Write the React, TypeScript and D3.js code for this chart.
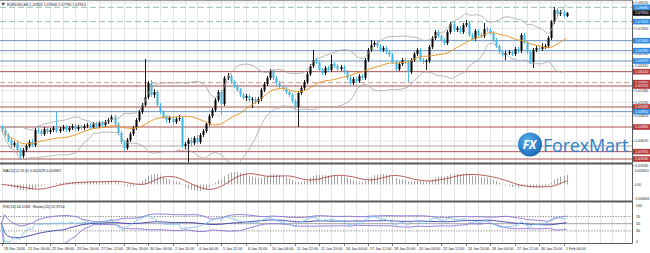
import React from "react";
import * as d3 from "d3";

// ---- EURUSD H4 candles (19 Dec 2016 – 1 Feb 2017) ----
const opens = [1.0449,1.0440,1.0425,1.0410,1.0395,1.0401,1.0380,1.0362,1.0380,1.0392,
1.0404,1.0395,1.0440,1.0437,1.0428,1.0443,1.0434,1.0440,1.0446,1.0437,
1.0443,1.0449,1.0440,1.0446,1.0452,1.0443,1.0449,1.0446,1.0452,1.0455,
1.0449,1.0458,1.0452,1.0461,1.0455,1.0464,1.0470,1.0479,1.0458,1.0431,
1.0404,1.0386,1.0410,1.0428,1.0446,1.0470,1.0494,1.0515,1.0539,1.0581,
1.0545,1.0554,1.0515,1.0494,1.0479,1.0470,1.0476,1.0464,1.0473,1.0476,
1.0392,1.0398,1.0410,1.0401,1.0416,1.0404,1.0425,1.0437,1.0458,1.0482,
1.0500,1.0530,1.0554,1.0518,1.0596,1.0602,1.0584,1.0572,1.0560,1.0545,
1.0536,1.0542,1.0530,1.0533,1.0524,1.0533,1.0560,1.0578,1.0596,1.0617,
1.0596,1.0581,1.0569,1.0563,1.0554,1.0545,1.0527,1.0509,1.0551,1.0566,
1.0584,1.0608,1.0632,1.0650,1.0644,1.0620,1.0611,1.0626,1.0620,1.0638,
1.0632,1.0623,1.0629,1.0614,1.0596,1.0581,1.0593,1.0587,1.0602,1.0596,
1.0650,1.0680,1.0695,1.0701,1.0692,1.0680,1.0686,1.0674,1.0665,1.0644,
1.0623,1.0638,1.0650,1.0644,1.0614,1.0650,1.0668,1.0680,1.0650,1.0644,
1.0647,1.0689,1.0716,1.0734,1.0722,1.0710,1.0701,1.0734,1.0758,1.0740,
1.0746,1.0734,1.0755,1.0761,1.0725,1.0713,1.0737,1.0725,1.0722,1.0743,
1.0740,1.0731,1.0710,1.0692,1.0674,1.0665,1.0671,1.0674,1.0668,1.0683,
1.0677,1.0725,1.0704,1.0674,1.0644,1.0680,1.0686,1.0683,1.0689,1.0692,
1.0716,1.0764,1.0800,1.0788,1.0794,1.0782];

const highs = [1.0455,1.0446,1.0431,1.0416,1.0407,1.0407,1.0386,1.0386,1.0398,1.0410,
1.0413,1.0446,1.0449,1.0443,1.0449,1.0449,1.0446,1.0452,1.0494,1.0449,
1.0455,1.0455,1.0452,1.0458,1.0458,1.0455,1.0455,1.0458,1.0461,1.0461,
1.0464,1.0464,1.0467,1.0467,1.0470,1.0476,1.0485,1.0485,1.0464,1.0437,
1.0410,1.0416,1.0434,1.0452,1.0476,1.0500,1.0521,1.0653,1.0587,1.0590,
1.0563,1.0560,1.0521,1.0500,1.0485,1.0482,1.0482,1.0479,1.0485,1.0482,
1.0404,1.0416,1.0419,1.0422,1.0425,1.0431,1.0443,1.0464,1.0488,1.0506,
1.0536,1.0560,1.0560,1.0602,1.0611,1.0608,1.0590,1.0578,1.0566,1.0551,
1.0548,1.0548,1.0539,1.0539,1.0539,1.0566,1.0584,1.0602,1.0623,1.0623,
1.0602,1.0587,1.0575,1.0569,1.0560,1.0551,1.0533,1.0557,1.0572,1.0590,
1.0614,1.0638,1.0680,1.0656,1.0650,1.0626,1.0632,1.0632,1.0665,1.0644,
1.0638,1.0635,1.0635,1.0620,1.0602,1.0599,1.0599,1.0608,1.0608,1.0656,
1.0686,1.0710,1.0707,1.0707,1.0698,1.0692,1.0692,1.0680,1.0671,1.0650,
1.0644,1.0656,1.0656,1.0650,1.0656,1.0674,1.0686,1.0686,1.0656,1.0653,
1.0695,1.0722,1.0740,1.0740,1.0728,1.0716,1.0740,1.0764,1.0764,1.0752,
1.0752,1.0761,1.0770,1.0767,1.0731,1.0743,1.0743,1.0731,1.0761,1.0749,
1.0746,1.0737,1.0716,1.0698,1.0680,1.0677,1.0680,1.0680,1.0689,1.0689,
1.0731,1.0731,1.0710,1.0680,1.0686,1.0692,1.0692,1.0701,1.0698,1.0722,
1.0770,1.0809,1.0806,1.0800,1.0800,1.0794];

const lows = [1.0434,1.0419,1.0404,1.0386,1.0389,1.0371,1.0353,1.0356,1.0374,1.0386,
1.0389,1.0389,1.0428,1.0422,1.0422,1.0428,1.0428,1.0434,1.0431,1.0431,
1.0437,1.0434,1.0434,1.0440,1.0437,1.0437,1.0440,1.0440,1.0446,1.0443,
1.0443,1.0446,1.0446,1.0449,1.0449,1.0458,1.0464,1.0452,1.0425,1.0398,
1.0377,1.0380,1.0404,1.0422,1.0440,1.0464,1.0488,1.0509,1.0533,1.0539,
1.0536,1.0509,1.0488,1.0473,1.0461,1.0461,1.0455,1.0458,1.0467,1.0386,
1.0383,1.0341,1.0392,1.0395,1.0398,1.0398,1.0419,1.0431,1.0452,1.0476,
1.0494,1.0524,1.0485,1.0512,1.0590,1.0578,1.0566,1.0554,1.0539,1.0530,
1.0527,1.0524,1.0506,1.0518,1.0518,1.0527,1.0554,1.0572,1.0590,1.0590,
1.0575,1.0563,1.0557,1.0548,1.0539,1.0521,1.0503,1.0449,1.0545,1.0560,
1.0578,1.0602,1.0626,1.0638,1.0614,1.0605,1.0605,1.0614,1.0614,1.0626,
1.0617,1.0617,1.0608,1.0590,1.0575,1.0575,1.0581,1.0581,1.0590,1.0590,
1.0644,1.0674,1.0689,1.0686,1.0674,1.0674,1.0668,1.0659,1.0638,1.0617,
1.0617,1.0632,1.0638,1.0584,1.0608,1.0644,1.0662,1.0644,1.0638,1.0620,
1.0641,1.0683,1.0710,1.0716,1.0704,1.0695,1.0695,1.0728,1.0734,1.0734,
1.0728,1.0728,1.0749,1.0719,1.0707,1.0707,1.0719,1.0716,1.0716,1.0734,
1.0725,1.0704,1.0686,1.0668,1.0659,1.0650,1.0665,1.0662,1.0662,1.0671,
1.0671,1.0698,1.0668,1.0638,1.0626,1.0674,1.0677,1.0677,1.0683,1.0686,
1.0710,1.0758,1.0782,1.0782,1.0776,1.0779];

const closes = [1.0440,1.0425,1.0410,1.0395,1.0401,1.0380,1.0362,1.0380,1.0392,1.0404,
1.0395,1.0440,1.0437,1.0428,1.0443,1.0434,1.0440,1.0446,1.0437,1.0443,
1.0449,1.0440,1.0446,1.0452,1.0443,1.0449,1.0446,1.0452,1.0455,1.0449,
1.0458,1.0452,1.0461,1.0455,1.0464,1.0470,1.0479,1.0458,1.0431,1.0404,
1.0386,1.0410,1.0428,1.0446,1.0470,1.0494,1.0515,1.0539,1.0581,1.0545,
1.0554,1.0515,1.0494,1.0479,1.0470,1.0476,1.0464,1.0473,1.0476,1.0392,
1.0398,1.0410,1.0401,1.0416,1.0404,1.0425,1.0437,1.0458,1.0482,1.0500,
1.0530,1.0554,1.0518,1.0596,1.0602,1.0584,1.0572,1.0560,1.0545,1.0536,
1.0542,1.0530,1.0533,1.0524,1.0533,1.0560,1.0578,1.0596,1.0617,1.0596,
1.0581,1.0569,1.0563,1.0554,1.0545,1.0527,1.0509,1.0551,1.0566,1.0584,
1.0608,1.0632,1.0650,1.0644,1.0620,1.0611,1.0626,1.0620,1.0638,1.0632,
1.0623,1.0629,1.0614,1.0596,1.0581,1.0593,1.0587,1.0602,1.0596,1.0650,
1.0680,1.0695,1.0701,1.0692,1.0680,1.0686,1.0674,1.0665,1.0644,1.0623,
1.0638,1.0650,1.0644,1.0614,1.0650,1.0668,1.0680,1.0650,1.0644,1.0647,
1.0689,1.0716,1.0734,1.0722,1.0710,1.0701,1.0734,1.0758,1.0740,1.0746,
1.0734,1.0755,1.0761,1.0725,1.0713,1.0737,1.0725,1.0722,1.0743,1.0740,
1.0731,1.0710,1.0692,1.0674,1.0665,1.0671,1.0674,1.0668,1.0683,1.0677,
1.0725,1.0704,1.0674,1.0644,1.0680,1.0686,1.0683,1.0689,1.0692,1.0716,
1.0764,1.0800,1.0788,1.0794,1.0782,1.0791];

// time axis labels, one every 8 bars
const timeLabels = ["19 Dec 2016","21 Dec 00:00","22 Dec 08:00","23 Dec 16:00","27 Dec 12:00","28 Dec 20:00","30 Dec 04:00","2 Jan 20:00","4 Jan 04:00","5 Jan 12:00","6 Jan 20:00","10 Jan 04:00","11 Jan 12:00","12 Jan 20:00","16 Jan 04:00","17 Jan 12:00","18 Jan 20:00","20 Jan 04:00","23 Jan 12:00","24 Jan 20:00","26 Jan 04:00","27 Jan 12:00","30 Jan 20:00","1 Feb 04:00"];

// price scale labels
const priceTicks = [1.0822, 1.0745, 1.0670, 1.0632, 1.0558, 1.0523, 1.0482, 1.0407, 1.0333];

// horizontal support / resistance levels
const levelPrices = [1.0808, 1.0765, 1.0708, 1.0678, 1.0647, 1.0615, 1.0582, 1.0572, 1.0509, 1.0495, 1.0449, 1.0392, 1.0375, 1.0353];
const levelTypes = ["pivot", "pivot", "resistance", "resistance", "resistance", "support", "pivotLow", "support", "support", "resistance", "support", "minor", "support", "support"];

const rsiLevels = [70, 50, 30];
const rsiAxis = [100, 70, 50, 30, 0];

// ---- indicator helpers ----
function smaS(a: number[], n: number) {
  return a.map((_, i) => d3.mean(a.slice(Math.max(0, i - n + 1), i + 1)) as number);
}
function sdS(a: number[], n: number) {
  return a.map((_, i) => {
    const w = a.slice(Math.max(0, i - n + 1), i + 1);
    const m = d3.mean(w) as number;
    return Math.sqrt(d3.mean(w, (v) => (v - m) * (v - m)) as number);
  });
}
function emaS(a: number[], n: number) {
  const k = 2 / (n + 1);
  const out: number[] = [];
  a.forEach((v, i) => out.push(i === 0 ? v : v * k + out[i - 1] * (1 - k)));
  return out;
}
function rsiS(a: number[], n: number) {
  const out = [50];
  let g = 0, l = 0;
  for (let i = 1; i < a.length; i++) {
    const ch = a[i] - a[i - 1];
    const gain = Math.max(ch, 0), loss = Math.max(-ch, 0);
    const p = Math.min(i, n);
    g = (g * (p - 1) + gain) / p;
    l = (l * (p - 1) + loss) / p;
    out.push(l === 0 ? 100 : 100 - 100 / (1 + g / l));
  }
  return out;
}

const FONT = "'Liberation Sans', Arial, sans-serif";
const AX = 632.5;

const levelStyle: Record<string, { stroke: string; dash?: string; label?: string }> = {
  pivot: { stroke: "#93bfae", dash: "6,3", label: "#2f8be0" },
  pivotLow: { stroke: "#c99a9a", dash: "5,3", label: "#b33a3a" },
  resistance: { stroke: "#6d93bf", label: "#2f8be0" },
  support: { stroke: "#a95454", label: "#b33a3a" },
  minor: { stroke: "#a8a8a8" },
};

export default function App() {
  const N = closes.length;
  const xB = d3.scaleLinear().domain([0, 184]).range([1.5, 563.5]);
  const yP = d3.scaleLinear().domain([1.0341, 1.0824]).range([163, 2]);

  const mid = smaS(closes, 20);
  const dev = sdS(closes, 20);
  const upper = mid.map((m, i) => m + 2 * dev[i]);
  const lower = mid.map((m, i) => m - 2 * dev[i]);

  const e12 = emaS(closes, 12), e26 = emaS(closes, 26);
  const macd = closes.map((_, i) => e12[i] - e26[i]);
  const signal = smaS(macd, 9);
  const mExt = d3.extent([...macd, ...signal, 0]) as [number, number];
  const yM = d3.scaleLinear().domain(mExt).range([191, 172]);
  const yMTop = yM.invert(170.5), yMBot = yM.invert(198.5);

  const rsi = rsiS(closes, 14);
  const rMid = smaS(rsi, 20), rDev = sdS(rsi, 20);
  const rUp = rMid.map((m, i) => m + 2 * rDev[i]);
  const rLo = rMid.map((m, i) => m - 2 * rDev[i]);
  const yR = d3.scaleLinear().domain([0, 100]).range([241.7, 205.7]);

  const lineP = d3.line<number>().x((_, i) => xB(i)).y((v) => yP(v));
  const lineM = d3.line<number>().x((_, i) => xB(i)).y((v) => yM(v));
  const lineR = d3.line<number>().x((_, i) => xB(i)).y((v) => yR(v));

  const gridIdx = d3.range(0, 210, 4).filter((i) => xB(i) < AX);
  const f5 = d3.format(".5f");
  const f6 = d3.format(".6f");
  const f4 = d3.format(".4f");
  const last = N - 1;

  return (
    <svg width={650} height={253} style={{ position: "absolute", left: 0, top: 0, background: "#fff" }} fontFamily={FONT}>
      <defs>
        <clipPath id="cMain"><rect x={0} y={0} width={AX} height={162.5} /></clipPath>
        <clipPath id="cMacd"><rect x={0} y={164.5} width={AX} height={36} /></clipPath>
        <clipPath id="cRsi"><rect x={0} y={202.5} width={AX} height={40.5} /></clipPath>
        <radialGradient id="logoG" cx="40%" cy="35%" r="70%">
          <stop offset="0%" stopColor="#5cb3f0" />
          <stop offset="100%" stopColor="#1565b0" />
        </radialGradient>
      </defs>
      <rect x={0} y={0} width={650} height={253} fill="#fff" />

      {/* vertical grid */}
      {gridIdx.map((i) => (
        <line key={"vg" + i} x1={Math.round(xB(i)) + 0.5} x2={Math.round(xB(i)) + 0.5} y1={0} y2={243} stroke="#dedede" strokeWidth={0.8} />
      ))}
      {/* horizontal grid */}
      {priceTicks.filter((p) => yP(p) < 162).map((p) => (
        <line key={"hg" + p} x1={0} x2={AX} y1={yP(p)} y2={yP(p)} stroke="#dedede" strokeWidth={0.8} />
      ))}

      {/* main panel */}
      <g clipPath="url(#cMain)">
        {levelPrices.map((p, k) => {
          const s = levelStyle[levelTypes[k]];
          return <line key={"lv" + k} x1={0} x2={AX} y1={yP(p)} y2={yP(p)} stroke={s.stroke} strokeWidth={1} strokeDasharray={s.dash} />;
        })}
        {closes.map((c, i) => {
          const o = opens[i];
          const bull = c >= o;
          const col = bull ? "#000" : "#3db6e6";
          const cx = Math.round(xB(i)) + 0.5;
          const top = yP(Math.max(o, c));
          const bot = yP(Math.min(o, c));
          return (
            <g key={"c" + i}>
              <line x1={cx} x2={cx} y1={yP(Math.max(highs[i], o, c))} y2={yP(Math.min(lows[i], o, c))} stroke={col} strokeWidth={0.9} />
              <rect x={cx - 1} y={top} width={2} height={Math.max(bot - top, 0.8)} fill={col} />
            </g>
          );
        })}
        <path d={lineP(upper) || ""} fill="none" stroke="#a6a6a6" strokeWidth={0.8} />
        <path d={lineP(lower) || ""} fill="none" stroke="#a6a6a6" strokeWidth={0.8} />
        <path d={lineP(mid) || ""} fill="none" stroke="#e8992c" strokeWidth={1} />
      </g>

      {/* MACD panel */}
      <g clipPath="url(#cMacd)">
        {macd.map((v, i) => (
          <line key={"h" + i} x1={Math.round(xB(i)) + 0.5} x2={Math.round(xB(i)) + 0.5} y1={yM(0)} y2={yM(v)} stroke="#a2a2a2" strokeWidth={1} />
        ))}
        <path d={lineM(signal) || ""} fill="none" stroke="#b04848" strokeWidth={0.9} />
      </g>

      {/* RSI panel */}
      <g clipPath="url(#cRsi)">
        {rsiLevels.map((lv) => (
          <line key={"rl" + lv} x1={0} x2={AX} y1={yR(lv)} y2={yR(lv)} stroke={lv === 50 ? "#8c8c8c" : "#6a6a6a"} strokeWidth={0.8} strokeDasharray={lv === 50 ? undefined : "1.2,1.5"} />
        ))}
        <path d={lineR(rUp) || ""} fill="none" stroke="#8d6fd6" strokeWidth={0.9} />
        <path d={lineR(rLo) || ""} fill="none" stroke="#8d6fd6" strokeWidth={0.9} />
        <path d={lineR(rMid) || ""} fill="none" stroke="#3a3aa8" strokeWidth={0.9} />
        <path d={lineR(rsi) || ""} fill="none" stroke="#7cc4ee" strokeWidth={0.9} />
      </g>

      {/* panel separators and axes */}
      <rect x={0} y={162.5} width={AX} height={2} fill="#5a5a5a" />
      <rect x={0} y={200.5} width={AX} height={2} fill="#5a5a5a" />
      <line x1={0} x2={AX} y1={243.5} y2={243.5} stroke="#5a5a5a" strokeWidth={1} />
      <line x1={AX} x2={AX} y1={0} y2={243.5} stroke="#5a5a5a" strokeWidth={1} />
      <line x1={0} x2={AX} y1={0.5} y2={0.5} stroke="#9a9a9a" strokeWidth={1} />

      {/* headers */}
      <polygon points="1.5,3 5,3 3.25,5.5" fill="#333" />
      <text x={7} y={6} fontSize={3.7} fill="#222">
        {`EURUSD,H4  ${f5(opens[last])} ${f5(highs[last])} ${f5(lows[last])} ${f5(closes[last])}`}
      </text>
      <text x={3} y={171.5} fontSize={3.7} fill="#222">
        {`MACD(12,26,9) ${f6(macd[last])} ${f6(signal[last])}`}
      </text>
      <text x={3} y={207.5} fontSize={3.7} fill="#222">
        {`RSI(14) ${f4(rsi[last])}   ~Bands(20) ${f4(rMid[last])}`}
      </text>

      {/* price axis plain labels */}
      {priceTicks.map((p) => (
        <g key={"pt" + p}>
          <line x1={AX} x2={AX + 2} y1={yP(p)} y2={yP(p)} stroke="#5a5a5a" strokeWidth={0.8} />
          <text x={635} y={yP(p) + 1.3} fontSize={3.7} fill="#222">{f5(p)}</text>
        </g>
      ))}
      {/* coloured level labels */}
      {levelPrices.map((p, k) => {
        const s = levelStyle[levelTypes[k]];
        if (!s.label) return null;
        return (
          <g key={"ll" + k}>
            <rect x={AX + 0.5} y={yP(p) - 2.8} width={17} height={5.6} fill={s.label} />
            <text x={635} y={yP(p) + 1.3} fontSize={3.7} fill="#fff">{f5(p)}</text>
          </g>
        );
      })}
      {/* current price */}
      <rect x={AX + 0.5} y={yP(closes[last]) - 2.8} width={17} height={5.6} fill="#111" />
      <text x={635} y={yP(closes[last]) + 1.3} fontSize={3.7} fill="#fff">{f5(closes[last])}</text>

      {/* MACD axis */}
      <text x={634.5} y={171.8} fontSize={3.4} fill="#222">{f6(yMTop)}</text>
      <text x={634.5} y={yM(0) + 1.3} fontSize={3.4} fill="#222">0.00</text>
      <text x={634} y={199.8} fontSize={3.2} fill="#222">{f6(yMBot)}</text>

      {/* RSI axis */}
      {rsiAxis.map((v) => (
        <text key={"ra" + v} x={636} y={yR(v) + 1.3} fontSize={3.7} fill="#222">{v}</text>
      ))}

      {/* time axis */}
      {timeLabels.map((t, k) => {
        const tx = Math.round(xB(k * 8)) + 0.5;
        return (
          <g key={"tl" + k}>
            <line x1={tx} x2={tx} y1={243.5} y2={246} stroke="#5a5a5a" strokeWidth={0.8} />
            <text x={tx + 1.5} y={249.5} fontSize={3.7} fill="#222">{t}</text>
          </g>
        );
      })}

      {/* ForexMart logo */}
      <g>
        <circle cx={530} cy={144.5} r={12} fill="url(#logoG)" />
        <text x={529.5} y={149} fontSize={12} fontStyle="italic" fontWeight="bold" fill="#fff" textAnchor="middle" fontFamily="'Open Sans', Arial, sans-serif">FX</text>
        <text x={543} y={152} fontSize={18} fill="#2d7fc6" fontFamily="'Open Sans', Arial, sans-serif" letterSpacing={-0.2}>ForexMart</text>
      </g>
    </svg>
  );
}
